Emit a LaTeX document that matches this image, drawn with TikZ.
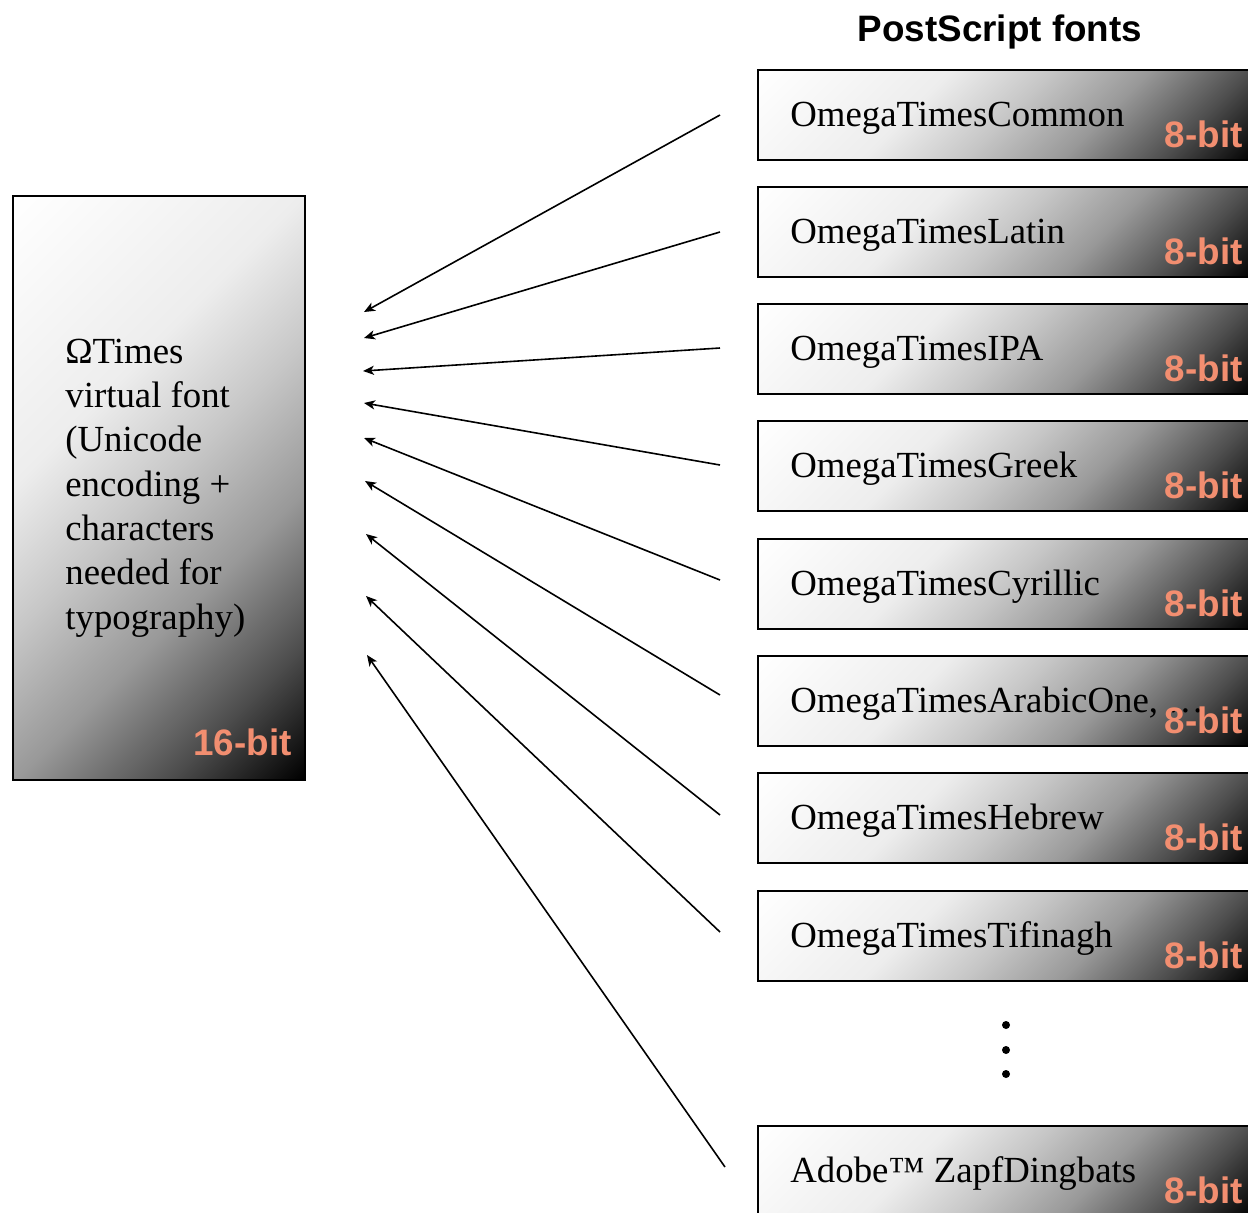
\documentclass[tikz,border=0pt]{standalone}
\usepackage{fontspec}
\setmainfont{Liberation Serif}
\newfontfamily\bitsans{Liberation Sans}
\usetikzlibrary{arrows.meta,calc}
\definecolor{bitcolor}{RGB}{242,142,112}
\pgfdeclarehorizontalshading{boxshade}{100bp}{color(0bp)=(white); color(30bp)=(white); color(43.2bp)=(black!7); color(50bp)=(black!22); color(56.8bp)=(black!40); color(63.9bp)=(black!70); color(70bp)=(black); color(100bp)=(black)}
\begin{document}
\begin{tikzpicture}[x=0.5pt,y=-0.5pt,
  shadebox/.style={draw=black, line width=1pt, inner sep=0pt,
    path picture={\shade[shading=boxshade, shading angle=-45]
      ([shift={(-#1/2,-#1/2)}]path picture bounding box.center) rectangle ++(#1,#1);}},
  rbox/.style={shadebox=518, minimum width=248pt, minimum height=45pt},
  lbox/.style={shadebox=774, minimum width=146pt, minimum height=292pt},
  fname/.style={anchor=base west, inner sep=0pt, font=\fontsize{18.4}{22.15}\selectfont},
  bitlabel/.style={anchor=base east, inner sep=0pt, text=bitcolor, font=\fontsize{18.4}{22}\selectfont\bitsans\bfseries},
  title/.style={anchor=base, inner sep=0pt, font=\fontsize{18.4}{22}\selectfont\bitsans\bfseries},
  vdot/.style={circle, fill=black, inner sep=0pt, minimum size=4pt},
  conn/.style={line width=0.8pt, -{Stealth[length=5.5pt, width=4.6pt, inset=1.5pt]}}
]
\useasboundingbox (0,0) rectangle (1248,1212);

% title
\node[title] (ttl) at (1000,41) {PostScript fonts};

% left box
\node[lbox] (omega) at (159,488) {};
\node[fname, align=left] (omegatext) at (65,629) {ΩTimes\\virtual font\\(Unicode\\encoding +\\characters\\needed for\\typography)};
\node[bitlabel] (bit16) at (292,755) {16-bit};

% right boxes
\foreach \i/\ty/\nm in {1/70/OmegaTimesCommon, 2/187/OmegaTimesLatin, 3/304/OmegaTimesIPA,
  4/421/OmegaTimesGreek, 5/539/OmegaTimesCyrillic, 6/656/{OmegaTimesArabicOne, \ldots},
  7/773/OmegaTimesHebrew, 8/891/OmegaTimesTifinagh, 9/1126/{Adobe™ ZapfDingbats}}{
  \node[rbox] (b\i) at (1006,\ty+45) {};
  \node[fname] (t\i) at (790,\ty+56) {\nm};
  \node[bitlabel] (n\i) at (1243,\ty+77) {8-bit};
}

% vertical dots
\node[vdot] (d1) at (1006,1025) {};
\node[vdot] (d2) at (1006,1050) {};
\node[vdot] (d3) at (1006,1074) {};

% arrow end points
\coordinate (s1) at (720,115);  \coordinate (e1) at (364,312);
\coordinate (s2) at (720,232);  \coordinate (e2) at (364,338);
\coordinate (s3) at (720,348);  \coordinate (e3) at (363,371);
\coordinate (s4) at (720,465);  \coordinate (e4) at (364,403);
\coordinate (s5) at (720,580);  \coordinate (e5) at (364,438);
\coordinate (s6) at (720,695);  \coordinate (e6) at (365,481);
\coordinate (s7) at (720,815);  \coordinate (e7) at (366,534);
\coordinate (s8) at (720,932);  \coordinate (e8) at (366,596);
\coordinate (s9) at (725,1167); \coordinate (e9) at (367,655);
\foreach \i in {1,...,9}{\draw[conn] (s\i) -- (e\i);}
\end{tikzpicture}
\end{document}
